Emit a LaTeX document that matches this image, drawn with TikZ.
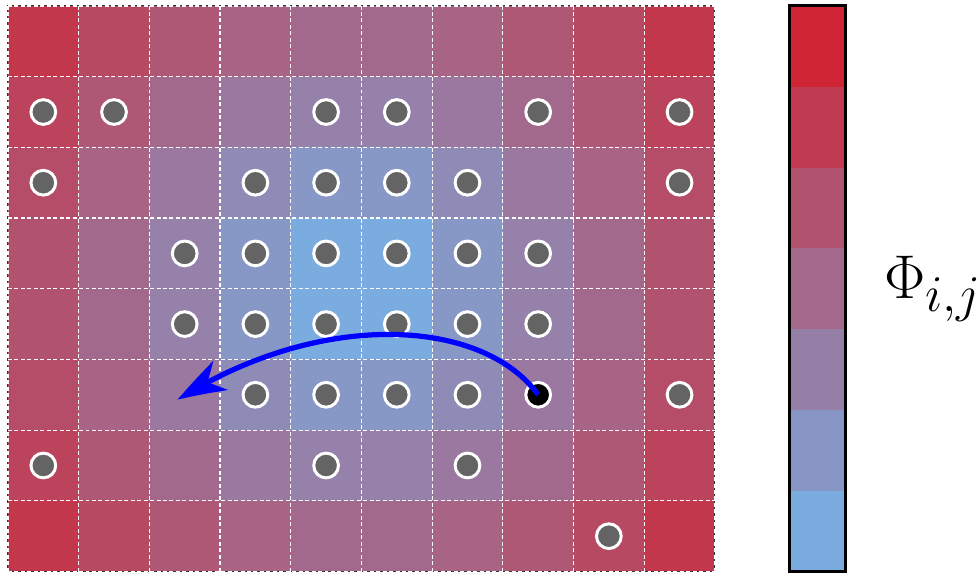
\documentclass[tikz,border=0pt]{standalone}
\usetikzlibrary{positioning,arrows.meta,bending}
\definecolor{phired}{RGB}{206,36,52}
\definecolor{phiblue}{RGB}{122,172,224}
\definecolor{dotgray}{RGB}{100,100,100}
\tikzset{
    dot/.style={circle, draw=white, line width=1.2pt, fill=dotgray, minimum size=0.35cm, inner sep=0pt},
    cellgrid/.style={white, line width=0.5pt, dash pattern=on 1.6pt off 1pt}
}
\begin{document}
\begin{tikzpicture}
    \useasboundingbox (-0.113,-0.034) rectangle (13.75,8.085);
    % potential on the lattice
    \foreach \i in {0,...,9} {
        \foreach \j in {0,...,7} {
            \pgfmathsetmacro{\d}{sqrt((\i+0.5-5)^2+(\j+0.5-4)^2)}
            \pgfmathtruncatemacro{\t}{min(100,max(0,(\d-0.707)/5.75*100))}
            \fill[phired!\t!phiblue] (\i,\j) rectangle ++(1,1);
        }
    }
    \draw[black!80, line width=0.4pt] (0,0) rectangle (10,8);
    \draw[cellgrid] (0,0) grid (10,8);
    % particles
    \foreach \c/\r in {0/1,1/1,4/1,5/1,7/1,9/1,
                       0/2,3/2,4/2,5/2,6/2,9/2,
                       2/3,3/3,4/3,5/3,6/3,7/3,
                       2/4,3/4,4/4,5/4,6/4,7/4,
                       3/5,4/5,5/5,6/5,9/5,
                       0/6,4/6,6/6,
                       8/7} {
        \node[dot] (d\c\r) at (\c+0.5,7.5-\r) {};
    }
    \node[dot, fill=black] (start) at (7.5,2.5) {};
    \coordinate (tip) at (2.4,2.43);
    \draw[blue, line width=2.1pt, -{Stealth[length=20pt,width=13pt,inset=6pt,bend]}]
        (start.center) .. controls (6.7,3.6) and (4.4,3.7) .. (tip);
    % colour bar
    \foreach \k in {0,...,6} {
        \pgfmathtruncatemacro{\p}{\k*100/6}
        \fill[phired!\p!phiblue] (11.05,\k*8/7) rectangle (11.85,\k*8/7+8/7);
    }
    \node[draw, line width=1.2pt, minimum width=0.8cm, minimum height=8cm, inner sep=0pt] (bar) at (11.45,4) {};
    \node[right=0.4cm of bar] (phi) {\fontsize{28}{32}\selectfont$\Phi_{i,j}$};
\end{tikzpicture}
\end{document}
